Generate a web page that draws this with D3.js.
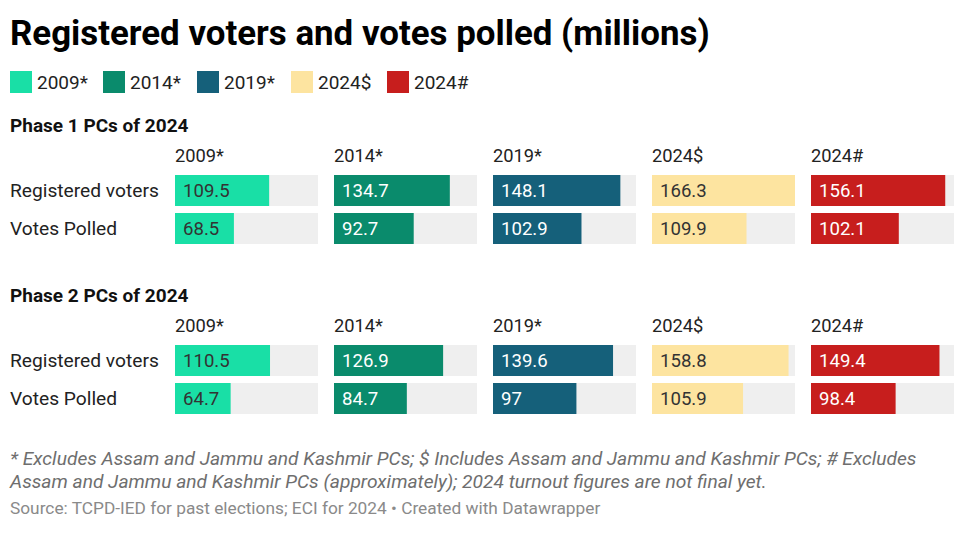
<!DOCTYPE html>
<html>
<head>
<meta charset="utf-8">
<script src="https://cdn.jsdelivr.net/npm/d3@7"></script>
<style>
  html, body { margin: 0; padding: 0; background: #fff; }
  svg { display: block; font-family: Roboto, "Noto Sans", sans-serif; }
</style>
</head>
<body>
<svg id="chart" width="960" height="537"></svg>
<script>
const title = "Registered voters and votes polled (millions)";
const years = ["2009*", "2014*", "2019*", "2024$", "2024#"];
const yearColors = ["#19dfa6", "#0a8b6c", "#15607a", "#fde4a0", "#c71e1d"];
const yearTextColors = ["#333333", "#ffffff", "#ffffff", "#333333", "#ffffff"];
const phases = ["Phase 1 PCs of 2024", "Phase 2 PCs of 2024"];
const measures = ["Registered voters", "Votes Polled"];
const phase1Registered = [109.5, 134.7, 148.1, 166.3, 156.1];
const phase1Polled = [68.5, 92.7, 102.9, 109.9, 102.1];
const phase2Registered = [110.5, 126.9, 139.6, 158.8, 149.4];
const phase2Polled = [64.7, 84.7, 97, 105.9, 98.4];
const footnoteLines = [
  "* Excludes Assam and Jammu and Kashmir PCs; $ Includes Assam and Jammu and Kashmir PCs; # Excludes",
  "Assam and Jammu and Kashmir PCs (approximately); 2024 turnout figures are not final yet."
];
const sourceText = "Source: TCPD-IED for past elections; ECI for 2024 \u2022 Created with Datawrapper";

const phaseValues = [
  [phase1Registered, phase1Polled],
  [phase2Registered, phase2Polled]
];

const svg = d3.select("#chart");

// Title
const t = svg.append("text")
  .attr("x", 10).attr("y", 45)
  .attr("font-size", 31).attr("font-weight", 700)
  .attr("fill", "#000")
  .text(title);
const tw = t.node().getComputedTextLength();
t.attr("font-size", 31 * 700 / tw);

// Legend
const legendX = [10, 103, 197, 291, 387];
const lg = svg.append("g");
years.forEach((y, i) => {
  lg.append("rect").attr("x", legendX[i]).attr("y", 71).attr("width", 22).attr("height", 22)
    .attr("fill", yearColors[i]);
  lg.append("text").attr("x", legendX[i] + 27).attr("y", 89)
    .attr("font-size", 19).attr("fill", "#222").text(y);
});

// Scales
const allVals = phaseValues.flat(2);
const x = d3.scaleLinear().domain([0, d3.max(allVals)]).range([0, 143]);
const col = d3.scaleBand().domain(years).range([175, 954]).paddingInner(16 / 159).paddingOuter(0);

const phaseTop = [0, 170];

phases.forEach((p, pi) => {
  const off = phaseTop[pi];
  const g = svg.append("g").attr("transform", `translate(0,${off})`);
  g.append("text").attr("x", 10).attr("y", 132)
    .attr("font-size", 19).attr("font-weight", 700).attr("fill", "#111").text(p);

  const row = d3.scaleBand().domain(measures).range([175, 244]).paddingInner(7 / 38).paddingOuter(0);

  g.selectAll(".colhead").data(years).join("text")
    .attr("x", d => col(d))
    .attr("y", 162)
    .attr("font-size", 18.3).attr("fill", "#222")
    .text(d => d);

  g.selectAll(".rowlab").data(measures).join("text")
    .attr("x", 10)
    .attr("y", d => row(d) + row.bandwidth() / 2 + 6.5)
    .attr("font-size", 19.2).attr("fill", "#222")
    .text(d => d);

  measures.forEach((m, mi) => {
    const vals = phaseValues[pi][mi];
    const cells = years.map((yr, i) => ({ yr, i, v: vals[i] }));
    g.selectAll(null).data(cells).join("rect")
      .attr("x", d => col(d.yr)).attr("y", row(m))
      .attr("width", col.bandwidth()).attr("height", row.bandwidth())
      .attr("fill", "#efefef");
    g.selectAll(null).data(cells).join("rect")
      .attr("x", d => col(d.yr)).attr("y", row(m))
      .attr("width", d => x(d.v)).attr("height", row.bandwidth())
      .attr("fill", d => yearColors[d.i]);
    g.selectAll(null).data(cells).join("text")
      .attr("x", d => col(d.yr) + 8)
      .attr("y", row(m) + row.bandwidth() / 2 + 6.5)
      .attr("font-size", 18.6)
      .attr("fill", d => yearTextColors[d.i])
      .text(d => d.v);
  });
});

// Footnotes
footnoteLines.forEach((line, i) => {
  svg.append("text").attr("x", 10).attr("y", 465 + i * 22.5)
    .attr("font-size", 19.2).attr("font-style", "italic").attr("fill", "#6e6e6e")
    .text(line);
});
svg.append("text").attr("x", 10).attr("y", 514)
  .attr("font-size", 17.3).attr("fill", "#8a8a8a")
  .text(sourceText);
</script>
</body>
</html>
